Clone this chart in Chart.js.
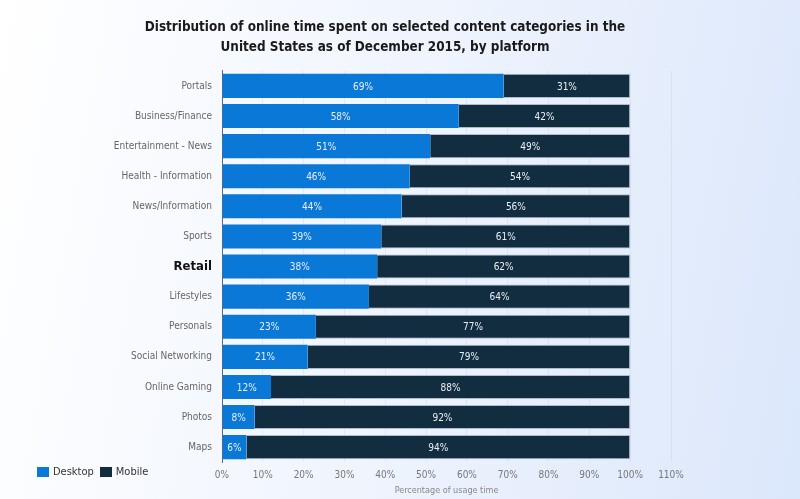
<!DOCTYPE html>
<html>
<head>
<meta charset="utf-8">
<script src="https://cdn.jsdelivr.net/npm/chart.js@4.4.1/dist/chart.umd.min.js"></script>
<style>
  html, body { margin: 0; padding: 0; }
  body {
    width: 800px; height: 499px; overflow: hidden; position: relative;
    background: linear-gradient(100deg, #ffffff 0%, #eff4fd 50%, #dbe7fb 100%);
    font-family: "DejaVu Sans Condensed", "DejaVu Sans", sans-serif;
  }
  #wrap { position: absolute; left: 0; top: 0; width: 800px; height: 499px; }
  #legend { position: absolute; left: 37px; top: 465px; font-size: 11px; color: #333; display: flex; }
  #legend span.item { display: flex; align-items: center; margin-right: 6px; }
  #legend span.box { width: 12px; height: 10px; display: inline-block; margin-right: 4px; }
</style>
</head>
<body>
<div id="wrap"><canvas id="chart"></canvas></div>
<div id="legend">
  <span class="item"><span class="box" style="background:#0a78d6"></span>Desktop</span>
  <span class="item"><span class="box" style="background:#132d40"></span>Mobile</span>
</div>
<script>
/* ========= DATA ========= */

const categories = [
  "Portals", "Business/Finance", "Entertainment - News", "Health - Information",
  "News/Information", "Sports", "Retail", "Lifestyles", "Personals",
  "Social Networking", "Online Gaming", "Photos", "Maps"
];
const desktopShare = [69, 58, 51, 46, 44, 39, 38, 36, 23, 21, 12, 8, 6];
const mobileShare = [31, 42, 49, 54, 56, 61, 62, 64, 77, 79, 88, 92, 94];
const highlighted = "Retail";

const FONT = "'DejaVu Sans Condensed', 'DejaVu Sans', sans-serif";

/* ========= VALUE LABELS INSIDE BARS ========= */

const barLabels = {
  id: "barLabels",
  afterDatasetsDraw(chart) {
    const ctx = chart.ctx;
    ctx.save();
    ctx.font = "10px " + FONT;
    ctx.fillStyle = "#e8eef4";
    ctx.textAlign = "center";
    ctx.textBaseline = "middle";
    chart.data.datasets.forEach((ds, i) => {
      chart.getDatasetMeta(i).data.forEach((bar, j) => {
        const cx = (bar.x + bar.base) / 2;
        ctx.fillText(ds.data[j] + "%", cx, bar.y + 1);
      });
    });
    ctx.restore();
  }
};

/* ========= CHART ========= */

new Chart(document.getElementById("chart"), {
  type: "bar",
  data: {
    labels: categories,
    datasets: [{
      label: "Desktop",
      data: desktopShare,
      backgroundColor: "#0a78d6",
      borderWidth: 0,
      barPercentage: 0.8,
      categoryPercentage: 1
    }, {
      label: "Mobile",
      data: mobileShare,
      backgroundColor: "#132d40",
      borderColor: "#aebccb",
      borderWidth: { top: 1, bottom: 1, right: 1, left: 0 },
      barPercentage: 0.8,
      categoryPercentage: 1
    }]
  },
  options: {
    indexAxis: "y",
    responsive: true,
    maintainAspectRatio: false,
    animation: false,
    layout: { padding: { left: 99, right: 129, top: 12, bottom: 3 } },
    plugins: {
      legend: { display: false },
      tooltip: { enabled: false },
      title: {
        display: true,
        text: [
          "Distribution of online time spent on selected content categories in the",
          "United States as of December 2015, by platform"
        ],
        color: "#1a1a1a",
        font: { family: FONT, size: 13.4, weight: "bold", lineHeight: 1.45 },
        padding: { top: 6, bottom: 14 }
      }
    },
    scales: {
      x: {
        stacked: true,
        min: 0,
        max: 110,
        ticks: {
          stepSize: 10,
          color: "#777",
          padding: 7,
          font: { family: FONT, size: 10 },
          callback: v => v + "%"
        },
        grid: { color: "rgba(120,140,160,0.12)", drawTicks: false },
        border: { display: false },
        title: {
          display: true,
          text: "Percentage of usage time",
          color: "#888",
          font: { family: FONT, size: 9 },
          padding: { top: -3, bottom: 0 }
        }
      },
      y: {
        stacked: true,
        afterFit(scale) { scale.width = 123; },
        ticks: {
          padding: 2,
          color: ctx => categories[ctx.index] === highlighted ? "#111" : "#666",
          font: ctx => categories[ctx.index] === highlighted
            ? { family: FONT, size: 13, weight: "bold" }
            : { family: FONT, size: 10 }
        },
        grid: { display: false },
        border: { color: "#666", width: 1 }
      }
    }
  },
  plugins: [barLabels]
});
</script>
</body>
</html>
